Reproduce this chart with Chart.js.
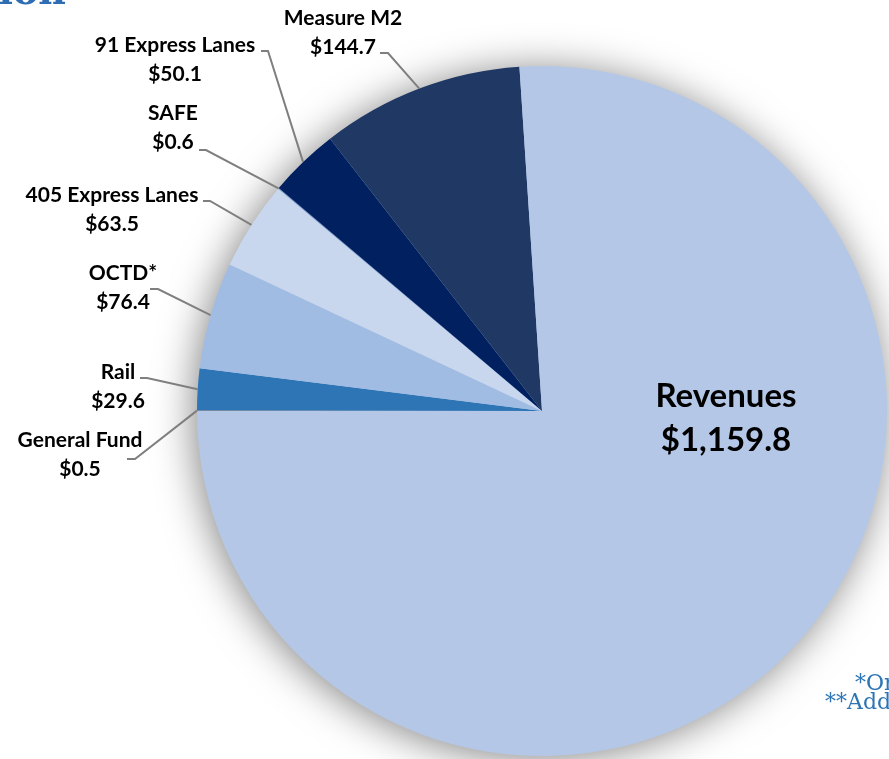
<!DOCTYPE html>
<html>
<head>
<meta charset="utf-8">
<script src="https://cdn.jsdelivr.net/npm/chart.js@4/dist/chart.umd.min.js"></script>
<style>
  html, body { margin: 0; padding: 0; background: #fff; overflow: hidden; }
  #wrap { position: relative; width: 889px; height: 759px; }
</style>
</head>
<body>
<div id="wrap"><canvas id="pie" width="889" height="759"></canvas></div>
<script>
// ===== data =====
const categories = ["General Fund", "Rail", "OCTD*", "405 Express Lanes", "SAFE", "91 Express Lanes", "Measure M2", "Revenues"];
const amounts = [0.5, 29.6, 76.4, 63.5, 0.6, 50.1, 144.7, 1159.8];
const sliceColors = ["#808080", "#2E75B6", "#A0BCE3", "#C8D7ED", "#7F9CC9", "#002060", "#203864", "#B4C7E7"];

// label placement (text centre x, first line y, leader start x, leader end x, leader y)
const labelSpots = [
  { x: 80,  y: 440, ax: 127, bx: 135, ly: 459 },
  { x: 118, y: 372, ax: 140, bx: 147, ly: 378 },
  { x: 123, y: 273, ax: 150, bx: 158, ly: 289 },
  { x: 112, y: 195, ax: 203, bx: 210, ly: 201 },
  { x: 173, y: 113, ax: 199, bx: 206, ly: 150 },
  { x: 175, y: 45,  ax: 261, bx: 268, ly: 51 },
  { x: 343, y: 18,  ax: 380, bx: 388, ly: 53 },
  { x: 726, y: 396 }
];

function money(v) {
  return "$" + v.toLocaleString("en-US", { minimumFractionDigits: 1, maximumFractionDigits: 1 });
}

// ===== shadow behind the pie =====
const pieShadow = {
  id: "pieShadow",
  beforeDatasetsDraw(chart) {
    const arc = chart.getDatasetMeta(0).data[0];
    if (!arc) return;
    const { x, y, outerRadius } = arc.getProps(["x", "y", "outerRadius"], true);
    const ctx = chart.ctx;
    ctx.save();
    ctx.shadowColor = "rgba(0,0,0,0.5)";
    ctx.shadowBlur = 40;
    ctx.shadowOffsetX = -3;
    ctx.shadowOffsetY = 3;
    ctx.beginPath();
    ctx.arc(x, y, outerRadius - 1, 0, Math.PI * 2);
    ctx.fillStyle = sliceColors[sliceColors.length - 1];
    ctx.fill();
    ctx.restore();
  }
};

// ===== labels with leader lines =====
const sliceLabels = {
  id: "sliceLabels",
  afterDatasetsDraw(chart) {
    const ctx = chart.ctx;
    const arcs = chart.getDatasetMeta(0).data;
    ctx.save();
    arcs.forEach((arc, i) => {
      const spot = labelSpots[i];
      const p = arc.getProps(["x", "y", "startAngle", "endAngle", "outerRadius"], true);
      const mid = (p.startAngle + p.endAngle) / 2;
      const big = i === arcs.length - 1;

      if (!big) {
        const ex = p.x + Math.cos(mid) * p.outerRadius;
        const ey = p.y + Math.sin(mid) * p.outerRadius;
        ctx.strokeStyle = "#7F7F7F";
        ctx.lineWidth = 2;
        ctx.beginPath();
        ctx.moveTo(spot.ax, spot.ly);
        ctx.lineTo(spot.bx, spot.ly);
        ctx.lineTo(ex, ey);
        ctx.stroke();
      }

      ctx.fillStyle = "#000";
      ctx.textAlign = "center";
      ctx.textBaseline = "middle";
      ctx.font = big ? "bold 33px Lato" : "bold 21px Lato";
      const gap = big ? 44 : 29;
      ctx.fillText(categories[i], spot.x, spot.y);
      ctx.fillText(money(amounts[i]), spot.x, spot.y + gap);
    });

    // cropped heading and footnotes
    ctx.fillStyle = "#2E6DB4";
    ctx.font = "bold 38px 'DejaVu Serif'";
    ctx.textAlign = "right";
    ctx.textBaseline = "alphabetic";
    ctx.fillText("Allocation", 66, 4);

    ctx.fillStyle = "#2E75B6";
    ctx.font = "22px 'DejaVu Serif'";
    ctx.textAlign = "left";
    ctx.textBaseline = "middle";
    ctx.fillText("*Orange County Transit District", 855, 684);
    ctx.fillText("**Additional", 825, 703);
    ctx.restore();
  }
};

new Chart(document.getElementById("pie"), {
  type: "pie",
  data: {
    labels: categories,
    datasets: [{
      data: amounts,
      backgroundColor: sliceColors,
      borderWidth: 0,
      hoverOffset: 0,
      offset: 0
    }]
  },
  options: {
    responsive: false,
    animation: false,
    rotation: 270,
    layout: { padding: { left: 197, right: 2, top: 66, bottom: 3 } },
    plugins: {
      legend: { display: false },
      tooltip: { enabled: false }
    }
  },
  plugins: [pieShadow, sliceLabels]
});
</script>
</body>
</html>
